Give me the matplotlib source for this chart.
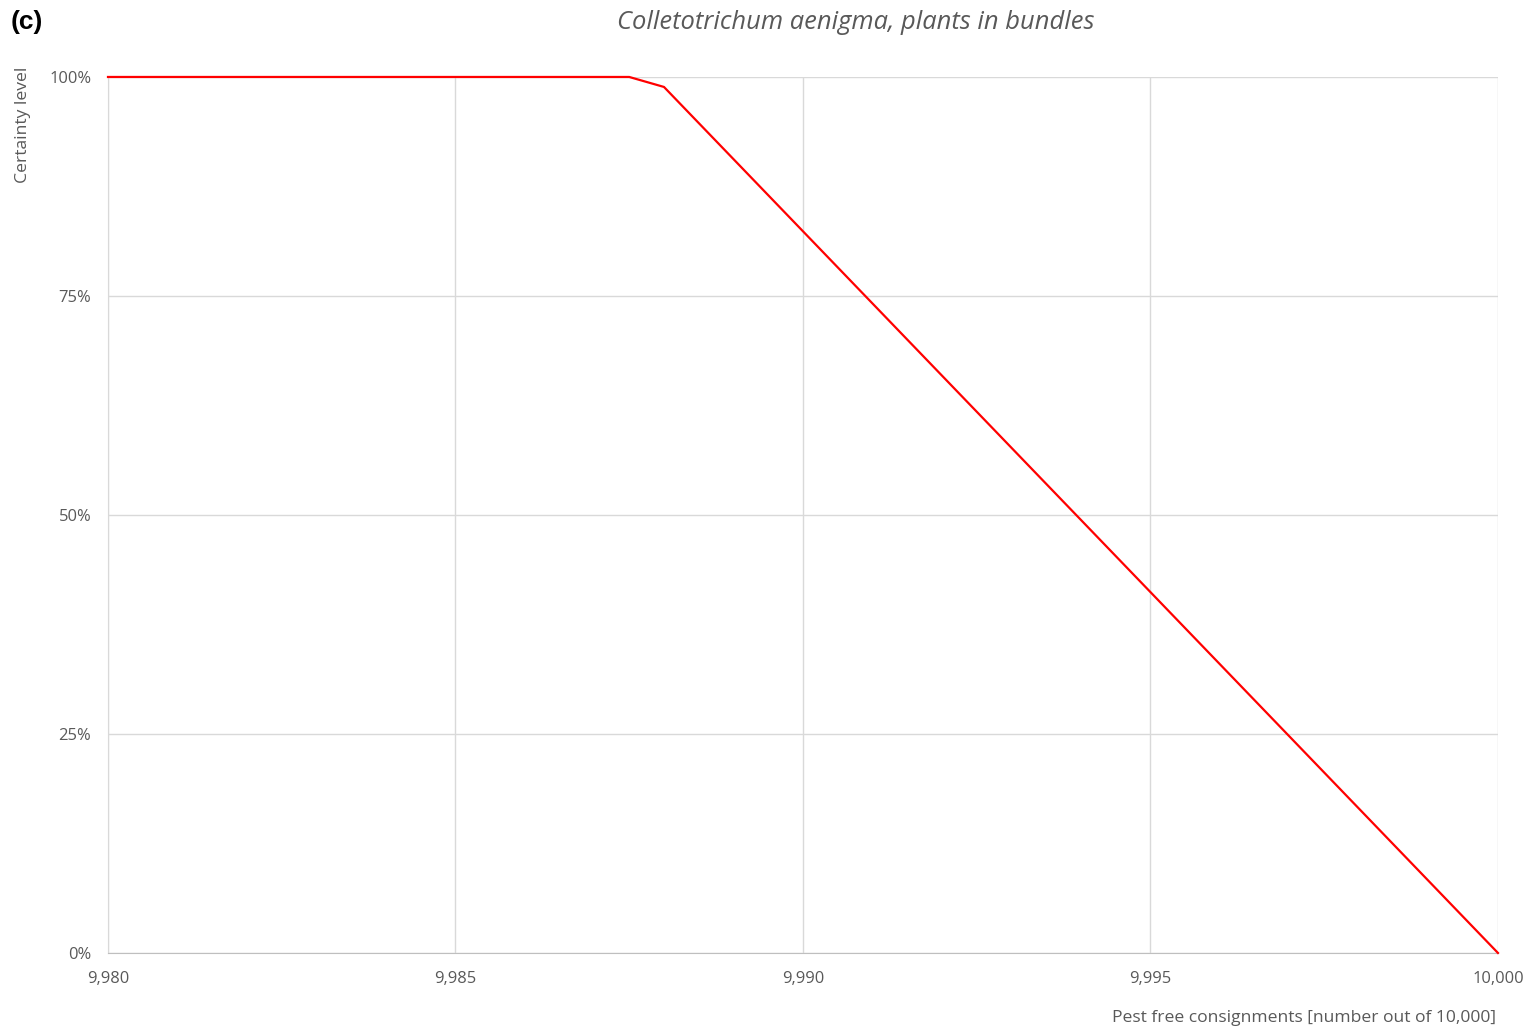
import matplotlib
matplotlib.use('Agg')
import matplotlib.pyplot as plt
from matplotlib.ticker import FuncFormatter, PercentFormatter

# Data
pest_free = [9980, 9987.5, 9988, 10000]
certainty = [1.0, 1.0, 0.9886, 0.0]
x_ticks = [9980, 9985, 9990, 9995, 10000]
y_ticks = [0, 0.25, 0.5, 0.75, 1.0]

plt.rcParams['font.family'] = ['Open Sans', 'DejaVu Sans']
text_grey = '#595959'

fig = plt.figure(figsize=(15.34, 10.29), dpi=100)
ax = fig.add_axes([0.0704, 0.0739, 0.9765 - 0.0704, 0.9252 - 0.0739])

ax.plot(pest_free, certainty, color='#ff0000', linewidth=1.6, clip_on=False, zorder=3)

ax.set_xlim(9980, 10000)
ax.set_ylim(0, 1)
ax.set_xticks(x_ticks)
ax.set_yticks(y_ticks)
ax.xaxis.set_major_formatter(FuncFormatter(lambda v, p: f'{v:,.0f}'))
ax.yaxis.set_major_formatter(PercentFormatter(1.0, decimals=0))
ax.tick_params(length=0, labelsize=11.9, colors=text_grey, pad=12)
ax.tick_params(axis='x', pad=13)

ax.grid(True, color='#d9d9d9', linewidth=1)
for side in ['top', 'right']:
    ax.spines[side].set_visible(False)
ax.spines['left'].set_color('#d9d9d9')
ax.spines['bottom'].set_color('#bfbfbf')

fig.text(0.558, 0.978, 'Colletotrichum aenigma, plants in bundles', ha='center', va='center',
         fontsize=18.4, style='italic', color=text_grey)
fig.text(0.007, 0.979, '(c)', ha='left', va='center', fontsize=19, fontweight='bold',
         family='Liberation Sans', color='black')
fig.text(0.975, 0.003, 'Pest free consignments [number out of 10,000]', ha='right', va='bottom',
         fontsize=12.6, color=text_grey)
fig.text(0.015, 0.935, 'Certainty level', ha='center', va='top', rotation=90,
         fontsize=12.6, color=text_grey)

fig.savefig('out.png', dpi=100)
